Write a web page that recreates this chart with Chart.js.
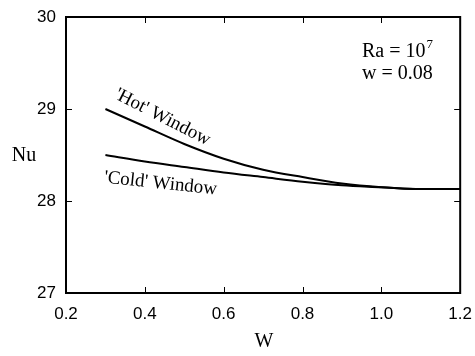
<!DOCTYPE html>
<html>
<head>
<meta charset="utf-8">
<script src="https://cdn.jsdelivr.net/npm/chart.js@4"></script>
<style>
  html, body { margin: 0; padding: 0; background: #fff; }
  #wrap { width: 475px; height: 356px; }
</style>
</head>
<body>
<div id="wrap"><canvas id="nuChart" width="475" height="356"></canvas></div>
<script>
// data
const wValues = [0.3, 0.4, 0.5, 0.6, 0.7, 0.8, 0.9, 1.0, 1.1, 1.2];
const hotNu   = [29.00, 28.81, 28.62, 28.46, 28.34, 28.26, 28.19, 28.15, 28.13, 28.13];
const coldNu  = [28.50, 28.43, 28.37, 28.31, 28.26, 28.21, 28.17, 28.15, 28.13, 28.13];
const xTicks = [0.2, 0.4, 0.6, 0.8, 1.0, 1.2];
const yTicks = [27, 28, 29, 30];

const sans = '"Liberation Sans", Arial, sans-serif';
const serif = '"Liberation Serif", "Times New Roman", serif';

function toPoints(xs, ys) {
  return xs.map((x, i) => ({ x: x, y: ys[i] }));
}

// frame, inward ticks and the text labels
const decorations = {
  id: 'decorations',
  afterDraw(chart) {
    const ctx = chart.ctx;
    const a = chart.chartArea;
    const xs = chart.scales.x;
    const ys = chart.scales.y;
    ctx.save();
    ctx.strokeStyle = '#000';
    ctx.lineWidth = 2;
    ctx.strokeRect(a.left, a.top, a.right - a.left, a.bottom - a.top);

    ctx.lineWidth = 1;
    const len = 6;
    ctx.beginPath();
    xTicks.slice(1, -1).forEach(v => {
      const px = Math.round(xs.getPixelForValue(v)) + 0.5;
      ctx.moveTo(px, a.bottom); ctx.lineTo(px, a.bottom - len);
      ctx.moveTo(px, a.top); ctx.lineTo(px, a.top + len);
    });
    yTicks.slice(1, -1).forEach(v => {
      const py = Math.round(ys.getPixelForValue(v)) + 0.5;
      ctx.moveTo(a.left, py); ctx.lineTo(a.left + len, py);
      ctx.moveTo(a.right, py); ctx.lineTo(a.right - len, py);
    });
    ctx.stroke();

    ctx.fillStyle = '#000';
    ctx.textAlign = 'center';
    ctx.textBaseline = 'middle';

    // curve labels
    ctx.font = '19px ' + serif;
    ctx.save();
    ctx.translate(xs.getPixelForValue(0.445), ys.getPixelForValue(28.91));
    ctx.rotate(27 * Math.PI / 180);
    ctx.fillText("'Hot' Window", 0, 0);
    ctx.restore();

    ctx.save();
    ctx.translate(xs.getPixelForValue(0.44), ys.getPixelForValue(28.19));
    ctx.rotate(6 * Math.PI / 180);
    ctx.fillText("'Cold' Window", 0, 0);
    ctx.restore();

    // parameters
    ctx.textAlign = 'left';
    ctx.textBaseline = 'alphabetic';
    ctx.font = '20px ' + serif;
    const tx = 362;
    const ra = 'Ra = 10';
    ctx.fillText(ra, tx, 57);
    const raW = ctx.measureText(ra).width;
    ctx.font = '13px ' + serif;
    ctx.fillText('7', tx + raW + 1, 48);
    ctx.font = '20px ' + serif;
    ctx.fillText('w = 0.08', tx, 79);

    // axis titles
    ctx.textAlign = 'center';
    ctx.textBaseline = 'middle';
    ctx.fillText('Nu', 24, ys.getPixelForValue(28.5) + 1);
    ctx.fillText('W', 264, 342);
    ctx.restore();
  }
};

const nuChart = new Chart(document.getElementById('nuChart'), {
  type: 'line',
  data: {
    datasets: [
      {
        label: "'Hot' Window",
        data: toPoints(wValues, hotNu),
        borderColor: '#000',
        borderWidth: 2,
        pointRadius: 0,
        cubicInterpolationMode: 'monotone',
        fill: false,
      },
      {
        label: "'Cold' Window",
        data: toPoints(wValues, coldNu),
        borderColor: '#000',
        borderWidth: 2,
        pointRadius: 0,
        cubicInterpolationMode: 'monotone',
        fill: false,
      },
    ],
  },
  options: {
    responsive: false,
    animation: false,
    layout: { padding: { top: 17, right: 13, left: 0, bottom: 0 } },
    plugins: {
      legend: { display: false },
      tooltip: { enabled: false },
    },
    scales: {
      x: {
        type: 'linear',
        min: 0.2,
        max: 1.2,
        grid: { display: false },
        border: { display: false },
        afterBuildTicks: s => { s.ticks = xTicks.map(v => ({ value: v })); },
        afterFit: s => { s.height = 63; },
        ticks: {
          padding: 3,
          color: '#000',
          font: { family: sans, size: 17 },
          callback: v => v.toFixed(1),
        },
      },
      y: {
        type: 'linear',
        min: 27,
        max: 30,
        grid: { display: false },
        border: { display: false },
        afterBuildTicks: s => { s.ticks = yTicks.map(v => ({ value: v })); },
        afterFit: s => { s.width = 66; },
        ticks: {
          padding: 2,
          color: '#000',
          font: { family: sans, size: 17 },
          callback: v => String(v),
        },
      },
    },
  },
  plugins: [decorations],
});
</script>
</body>
</html>
